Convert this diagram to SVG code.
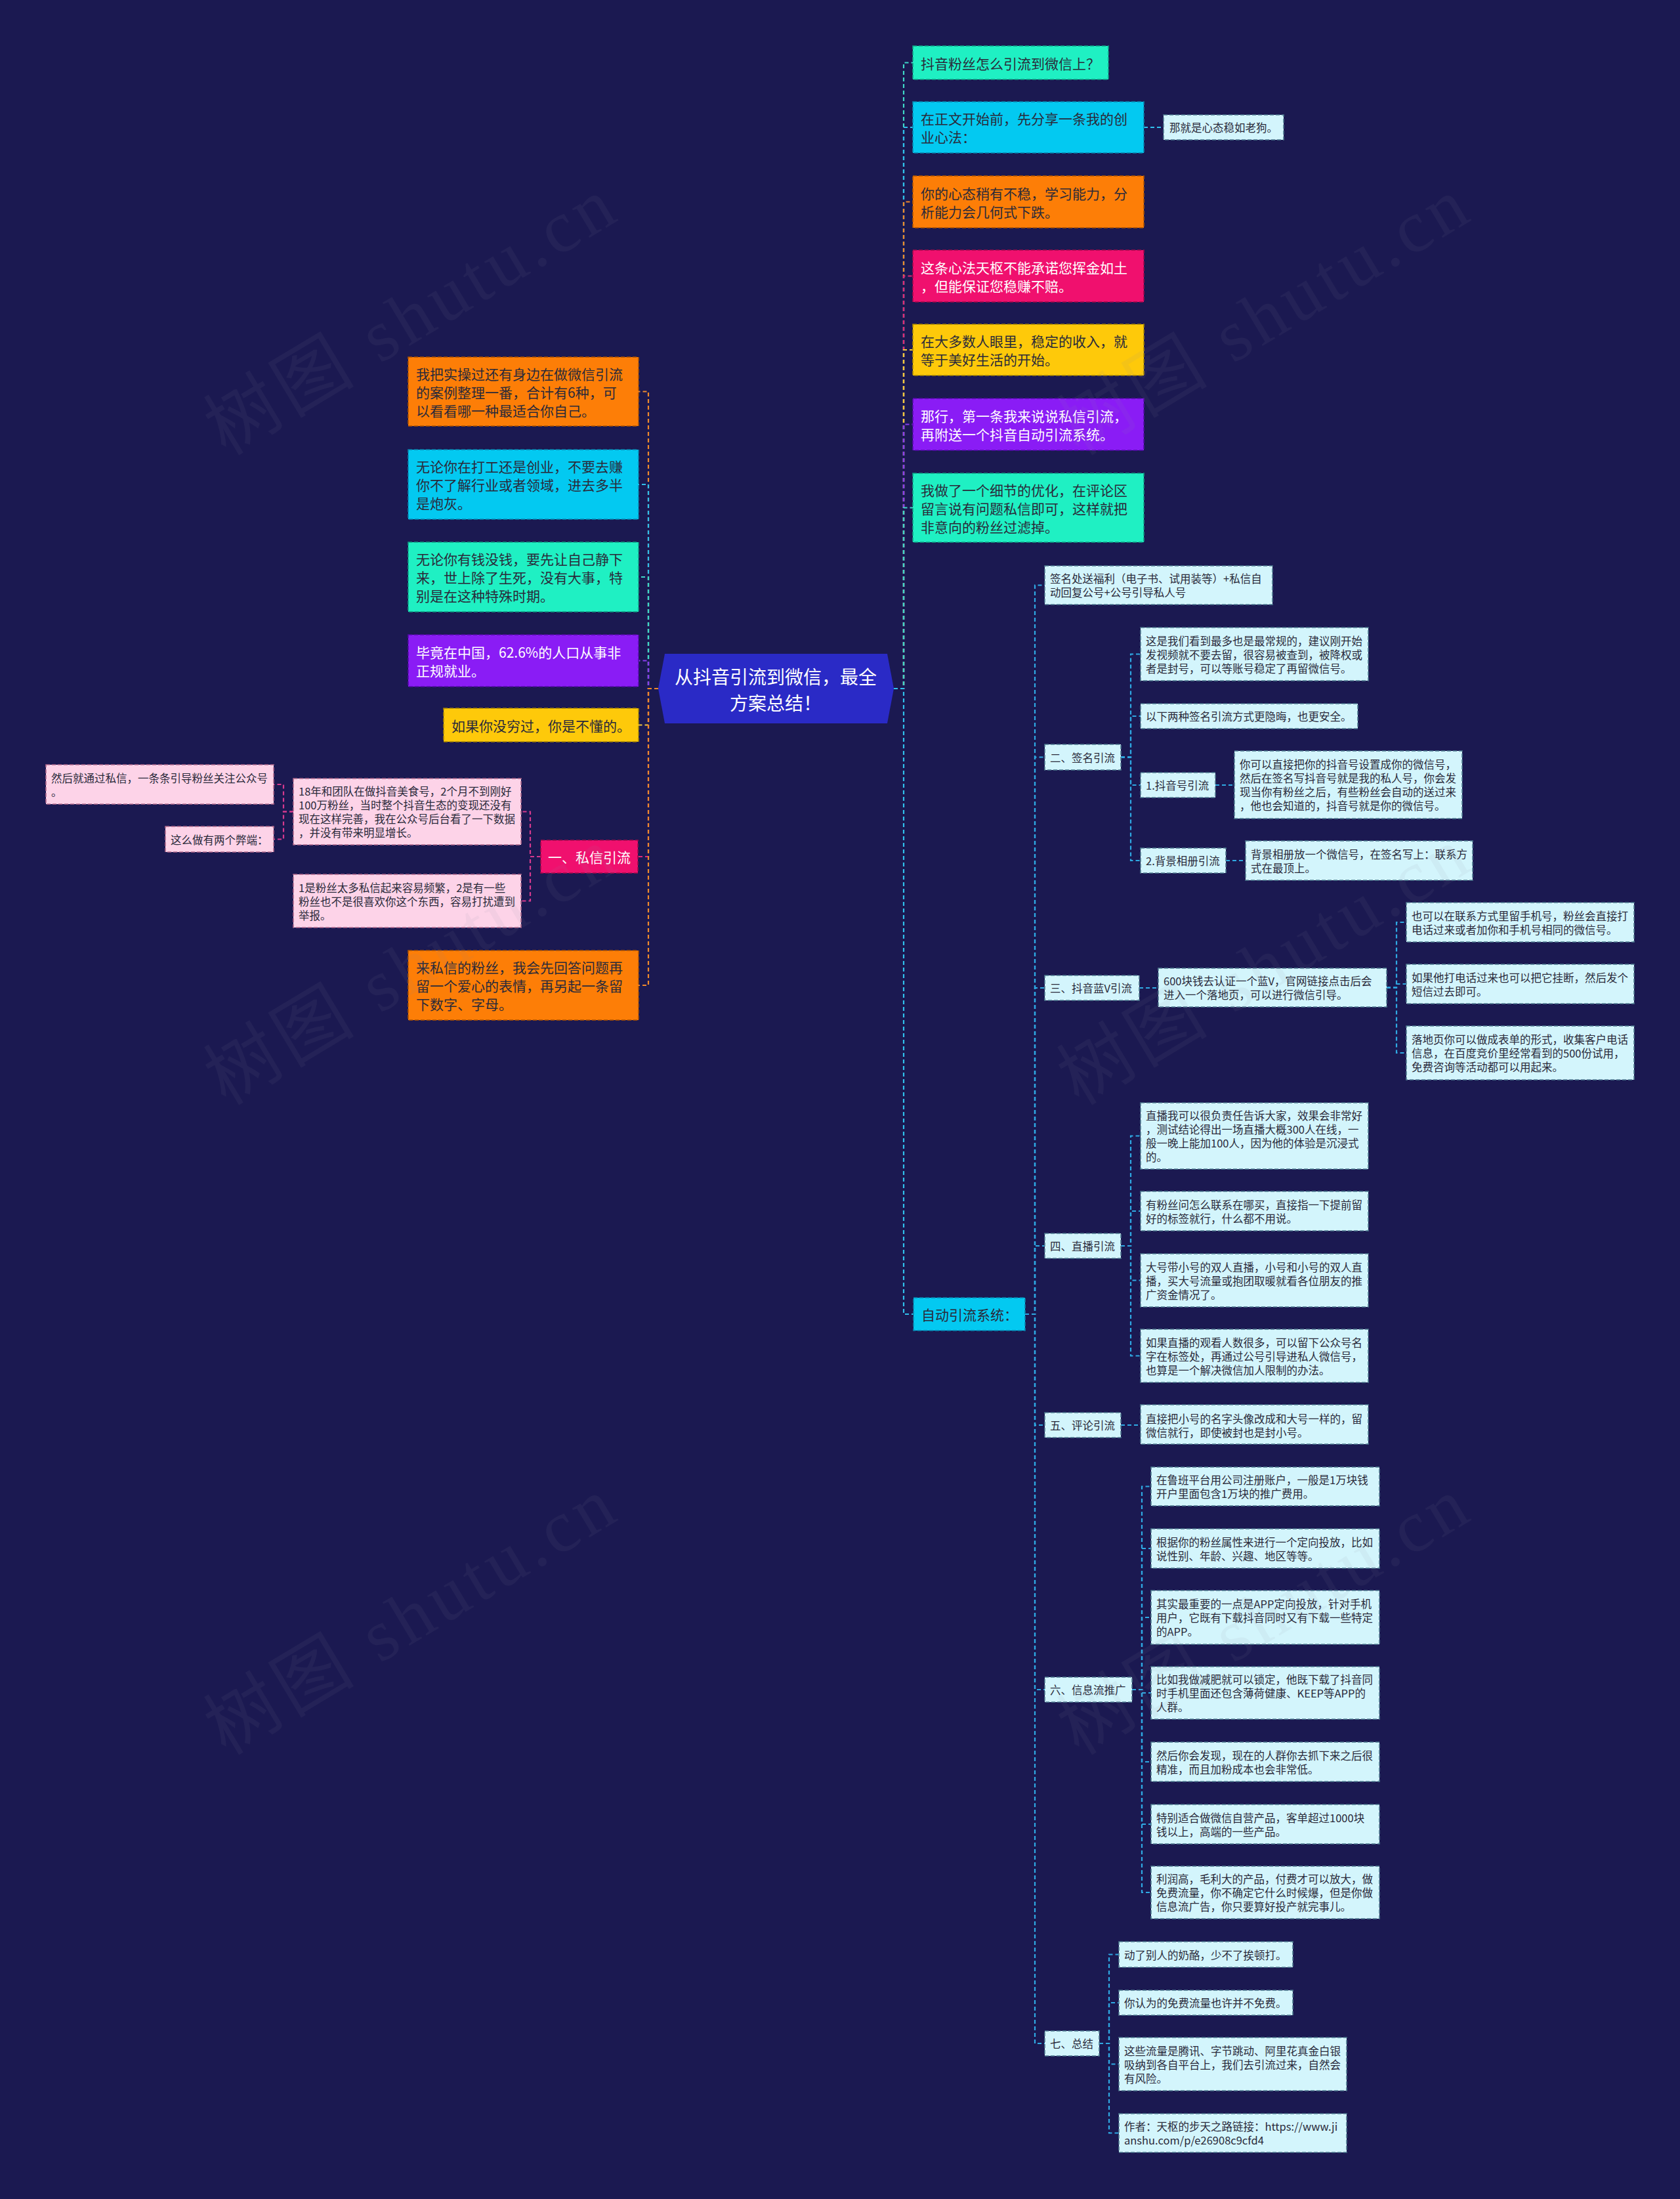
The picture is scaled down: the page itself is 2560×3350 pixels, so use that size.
<svg xmlns="http://www.w3.org/2000/svg" width="2560" height="3350" viewBox="0 0 2560 3350">
<style>
text{font-family:"Noto Sans CJK SC","Noto Sans",sans-serif;dominant-baseline:central}
.t1{font-size:21px}
.t2{font-size:16.5px}
.dk{fill:#2a2a3a}
.wt{fill:#ffffff}
.nb{stroke-width:1.6;stroke-dasharray:6 3}
.teal{fill:#1ff0c3;stroke:#0f9e84}
.cyan{fill:#03c9f1;stroke:#0a84ad}
.orange{fill:#fd7e07;stroke:#ad5300}
.pink{fill:#f0106e;stroke:#a2084a}
.yellow{fill:#fec90a;stroke:#a98600}
.purple{fill:#8a1cf5;stroke:#5609ab}
.lc{fill:#d3f5fc;stroke:#4f7b90}
.lp{fill:#fdd3e8;stroke:#b0688c}
#connectors path{fill:none;stroke-width:2.2;stroke-dasharray:6 4}
.e-teal{stroke:#3fd8c8}
.e-cyan{stroke:#31c0ec}
.e-orange{stroke:#f08a2c}
.e-pink{stroke:#e0287a}
.e-yellow{stroke:#f5c83a}
.e-purple{stroke:#8a3cf0}
.e-blue{stroke:#2fa9e3}
.e-pink2{stroke:#d63a8e}
.wm{font-family:"Liberation Serif","Noto Sans CJK SC",serif;font-size:112px;fill:#8a8aa0;opacity:0.08;dominant-baseline:auto}
</style>
<rect x="0" y="0" width="2560" height="3350" fill="#1b1951"/>

<g id="connectors">
<path class="e-teal" d="M1362 1049H1377V95.5H1391"/>
<path class="e-cyan" d="M1362 1049H1377V194H1391"/>
<path class="e-orange" d="M1362 1049H1377V307.5H1391"/>
<path class="e-pink" d="M1362 1049H1377V420.5H1391"/>
<path class="e-yellow" d="M1362 1049H1377V533H1391"/>
<path class="e-purple" d="M1362 1049H1377V646.5H1391"/>
<path class="e-teal" d="M1362 1049H1377V773.5H1391"/>
<path class="e-cyan" d="M1362 1049H1377V2002H1392"/>
<path class="e-cyan" d="M1743 194H1773"/>

<path class="e-orange" d="M1003 1049H988V596.5H973"/>
<path class="e-cyan" d="M1003 1049H988V738H973"/>
<path class="e-teal" d="M1003 1049H988V879H973"/>
<path class="e-purple" d="M1003 1049H988V1006.5H973"/>
<path class="e-yellow" d="M1003 1049H988V1104.5H973"/>
<path class="e-pink" d="M1003 1049H988V1305H972"/>
<path class="e-orange" d="M1003 1049H988V1501H973"/>

<path class="e-pink2" d="M824 1305H808V1236.5H794"/>
<path class="e-pink2" d="M824 1305H808V1372.5H794"/>
<path class="e-pink2" d="M447 1236.5H432V1195H417"/>
<path class="e-pink2" d="M447 1236.5H432V1278.5H417"/>

<path class="e-blue" d="M1562 2002H1577V891.5H1592"/>
<path class="e-blue" d="M1562 2002H1577V1153.5H1592"/>
<path class="e-blue" d="M1562 2002H1577V1505H1592"/>
<path class="e-blue" d="M1562 2002H1577V1898H1592"/>
<path class="e-blue" d="M1562 2002H1577V2171H1592"/>
<path class="e-blue" d="M1562 2002H1577V2574H1592"/>
<path class="e-blue" d="M1562 2002H1577V3113H1592"/>

<path class="e-blue" d="M1708 1153.5H1723V996.5H1738"/>
<path class="e-blue" d="M1708 1153.5H1723V1091H1738"/>
<path class="e-blue" d="M1708 1153.5H1723V1196H1738"/>
<path class="e-blue" d="M1708 1153.5H1723V1311H1738"/>
<path class="e-blue" d="M1852 1196H1881"/>
<path class="e-blue" d="M1868 1311H1898"/>

<path class="e-blue" d="M1736 1505H1765"/>
<path class="e-blue" d="M2113 1504.5H2128V1405H2143"/>
<path class="e-blue" d="M2113 1504.5H2128V1499H2143"/>
<path class="e-blue" d="M2113 1504.5H2128V1604H2143"/>

<path class="e-blue" d="M1708 1898H1723V1730.5H1738"/>
<path class="e-blue" d="M1708 1898H1723V1845H1738"/>
<path class="e-blue" d="M1708 1898H1723V1950.5H1738"/>
<path class="e-blue" d="M1708 1898H1723V2065.5H1738"/>

<path class="e-blue" d="M1708 2171H1738"/>

<path class="e-blue" d="M1725 2574H1740V2264.5H1754"/>
<path class="e-blue" d="M1725 2574H1740V2359H1754"/>
<path class="e-blue" d="M1725 2574H1740V2464H1754"/>
<path class="e-blue" d="M1725 2574H1740V2579H1754"/>
<path class="e-blue" d="M1725 2574H1740V2684H1754"/>
<path class="e-blue" d="M1725 2574H1740V2779H1754"/>
<path class="e-blue" d="M1725 2574H1740V2883H1754"/>

<path class="e-blue" d="M1675 3113H1690V2977.5H1705"/>
<path class="e-blue" d="M1675 3113H1690V3051H1705"/>
<path class="e-blue" d="M1675 3113H1690V3144.5H1705"/>
<path class="e-blue" d="M1675 3113H1690V3249.5H1705"/>
</g>

<g id="nodes">
<g id="root">
<polygon points="1003,1049 1013,996 1352,996 1362,1049 1352,1102 1013,1102" fill="#2a2ac6"/>
<text x="1182" y="1030" font-size="28" fill="#ffffff" text-anchor="middle">从抖音引流到微信，最全</text>
<text x="1182" y="1070" font-size="28" fill="#ffffff" text-anchor="middle">方案总结！</text>
</g>

<g id="n-a"><rect class="teal nb" x="1391" y="70" width="298" height="51"/>
<text class="t1 dk" x="1403" y="95.5">抖音粉丝怎么引流到微信上？</text></g>
<g id="n-b"><rect class="cyan nb" x="1391" y="155" width="352" height="78"/>
<text class="t1 dk" x="1403" y="180">在正文开始前，先分享一条我的创</text>
<text class="t1 dk" x="1403" y="208">业心法：</text></g>
<g id="n-b1"><rect class="lc nb" x="1773" y="175" width="183" height="38"/>
<text class="t2 dk" x="1782" y="194">那就是心态稳如老狗。</text></g>
<g id="n-c"><rect class="orange nb" x="1391" y="268" width="352" height="79"/>
<text class="t1 dk" x="1403" y="293.5">你的心态稍有不稳，学习能力，分</text>
<text class="t1 dk" x="1403" y="321.5">析能力会几何式下跌。</text></g>
<g id="n-d"><rect class="pink nb" x="1391" y="381" width="352" height="79"/>
<text class="t1 wt" x="1403" y="406.5">这条心法天枢不能承诺您挥金如土</text>
<text class="t1 wt" x="1403" y="434.5">，但能保证您稳赚不赔。</text></g>
<g id="n-e"><rect class="yellow nb" x="1391" y="494" width="352" height="78"/>
<text class="t1 dk" x="1403" y="519">在大多数人眼里，稳定的收入，就</text>
<text class="t1 dk" x="1403" y="547">等于美好生活的开始。</text></g>
<g id="n-f"><rect class="purple nb" x="1391" y="607" width="352" height="79"/>
<text class="t1 wt" x="1403" y="632.5">那行，第一条我来说说私信引流，</text>
<text class="t1 wt" x="1403" y="660.5">再附送一个抖音自动引流系统。</text></g>
<g id="n-g"><rect class="teal nb" x="1391" y="721" width="352" height="105"/>
<text class="t1 dk" x="1403" y="745.5">我做了一个细节的优化，在评论区</text>
<text class="t1 dk" x="1403" y="773.5">留言说有问题私信即可，这样就把</text>
<text class="t1 dk" x="1403" y="801.5">非意向的粉丝过滤掉。</text></g>

<g id="n-l1"><rect class="orange nb" x="622" y="544" width="351" height="105"/>
<text class="t1 dk" x="634" y="568.5">我把实操过还有身边在做微信引流</text>
<text class="t1 dk" x="634" y="596.5">的案例整理一番，合计有6种，可</text>
<text class="t1 dk" x="634" y="624.5">以看看哪一种最适合你自己。</text></g>
<g id="n-l2"><rect class="cyan nb" x="622" y="685" width="351" height="106"/>
<text class="t1 dk" x="634" y="710">无论你在打工还是创业，不要去赚</text>
<text class="t1 dk" x="634" y="738">你不了解行业或者领域，进去多半</text>
<text class="t1 dk" x="634" y="766">是炮灰。</text></g>
<g id="n-l3"><rect class="teal nb" x="622" y="826" width="351" height="106"/>
<text class="t1 dk" x="634" y="851">无论你有钱没钱，要先让自己静下</text>
<text class="t1 dk" x="634" y="879">来，世上除了生死，没有大事，特</text>
<text class="t1 dk" x="634" y="907">别是在这种特殊时期。</text></g>
<g id="n-l4"><rect class="purple nb" x="622" y="967" width="351" height="79"/>
<text class="t1 wt" x="634" y="992.5">毕竟在中国，62.6%的人口从事非</text>
<text class="t1 wt" x="634" y="1020.5">正规就业。</text></g>
<g id="n-l5"><rect class="yellow nb" x="676" y="1079" width="297" height="51"/>
<text class="t1 dk" x="688" y="1104.5">如果你没穷过，你是不懂的。</text></g>
<g id="n-l6"><rect class="pink nb" x="824" y="1280" width="148" height="50"/>
<text class="t1 wt" x="835" y="1305">一、私信引流</text></g>
<g id="n-l6a"><rect class="lp nb" x="447" y="1186" width="347" height="101"/>
<text class="t2 dk" x="455" y="1205">18年和团队在做抖音美食号，2个月不到刚好</text>
<text class="t2 dk" x="455" y="1226">100万粉丝，当时整个抖音生态的变现还没有</text>
<text class="t2 dk" x="455" y="1247">现在这样完善，我在公众号后台看了一下数据</text>
<text class="t2 dk" x="455" y="1268">，并没有带来明显增长。</text></g>
<g id="n-l6a1"><rect class="lp nb" x="70" y="1165" width="347" height="60"/>
<text class="t2 dk" x="78" y="1184.5">然后就通过私信，一条条引导粉丝关注公众号</text>
<text class="t2 dk" x="78" y="1205.5">。</text></g>
<g id="n-l6a2"><rect class="lp nb" x="252" y="1259" width="165" height="39"/>
<text class="t2 dk" x="260" y="1278.5">这么做有两个弊端：</text></g>
<g id="n-l6b"><rect class="lp nb" x="447" y="1332" width="347" height="81"/>
<text class="t2 dk" x="455" y="1351.5">1是粉丝太多私信起来容易频繁，2是有一些</text>
<text class="t2 dk" x="455" y="1372.5">粉丝也不是很喜欢你这个东西，容易打扰遭到</text>
<text class="t2 dk" x="455" y="1393.5">举报。</text></g>
<g id="n-l7"><rect class="orange nb" x="622" y="1448" width="351" height="106"/>
<text class="t1 dk" x="634" y="1473">来私信的粉丝，我会先回答问题再</text>
<text class="t1 dk" x="634" y="1501">留一个爱心的表情，再另起一条留</text>
<text class="t1 dk" x="634" y="1529">下数字、字母。</text></g>

<g id="n-auto"><rect class="cyan nb" x="1392" y="1977" width="170" height="50"/>
<text class="t1 dk" x="1404" y="2002" font-size="20">自动引流系统：</text></g>

<g id="n-s0"><rect class="lc nb" x="1592" y="862" width="347" height="59"/>
<text class="t2 dk" x="1600" y="881">签名处送福利（电子书、试用装等）+私信自</text>
<text class="t2 dk" x="1600" y="902">动回复公号+公号引导私人号</text></g>

<g id="n-s2"><rect class="lc nb" x="1592" y="1134" width="116" height="39"/>
<text class="t2 dk" x="1600" y="1153.5">二、签名引流</text></g>
<g id="n-s2a"><rect class="lc nb" x="1738" y="956" width="347" height="81"/>
<text class="t2 dk" x="1746" y="975.5">这是我们看到最多也是最常规的，建议刚开始</text>
<text class="t2 dk" x="1746" y="996.5">发视频就不要去留，很容易被查到，被降权或</text>
<text class="t2 dk" x="1746" y="1017.5">者是封号，可以等账号稳定了再留微信号。</text></g>
<g id="n-s2b"><rect class="lc nb" x="1738" y="1072" width="331" height="38"/>
<text class="t2 dk" x="1746" y="1091">以下两种签名引流方式更隐晦，也更安全。</text></g>
<g id="n-s2c"><rect class="lc nb" x="1738" y="1177" width="114" height="38"/>
<text class="t2 dk" x="1746" y="1196">1.抖音号引流</text></g>
<g id="n-s2c1"><rect class="lc nb" x="1881" y="1144" width="347" height="103"/>
<text class="t2 dk" x="1889" y="1164">你可以直接把你的抖音号设置成你的微信号，</text>
<text class="t2 dk" x="1889" y="1185">然后在签名写抖音号就是我的私人号，你会发</text>
<text class="t2 dk" x="1889" y="1206">现当你有粉丝之后，有些粉丝会自动的送过来</text>
<text class="t2 dk" x="1889" y="1227">，他也会知道的，抖音号就是你的微信号。</text></g>
<g id="n-s2d"><rect class="lc nb" x="1738" y="1292" width="130" height="38"/>
<text class="t2 dk" x="1746" y="1311">2.背景相册引流</text></g>
<g id="n-s2d1"><rect class="lc nb" x="1898" y="1281" width="346" height="60"/>
<text class="t2 dk" x="1906" y="1300.5">背景相册放一个微信号，在签名写上：联系方</text>
<text class="t2 dk" x="1906" y="1321.5">式在最顶上。</text></g>

<g id="n-s3"><rect class="lc nb" x="1592" y="1486" width="144" height="38"/>
<text class="t2 dk" x="1600" y="1505">三、抖音蓝V引流</text></g>
<g id="n-s3a"><rect class="lc nb" x="1765" y="1475" width="348" height="59"/>
<text class="t2 dk" x="1773" y="1494">600块钱去认证一个蓝V，官网链接点击后会</text>
<text class="t2 dk" x="1773" y="1515">进入一个落地页，可以进行微信引导。</text></g>
<g id="n-s3a1"><rect class="lc nb" x="2143" y="1375" width="347" height="60"/>
<text class="t2 dk" x="2151" y="1394.5">也可以在联系方式里留手机号，粉丝会直接打</text>
<text class="t2 dk" x="2151" y="1415.5">电话过来或者加你和手机号相同的微信号。</text></g>
<g id="n-s3a2"><rect class="lc nb" x="2143" y="1469" width="347" height="60"/>
<text class="t2 dk" x="2151" y="1488.5">如果他打电话过来也可以把它挂断，然后发个</text>
<text class="t2 dk" x="2151" y="1509.5">短信过去即可。</text></g>
<g id="n-s3a3"><rect class="lc nb" x="2143" y="1563" width="347" height="82"/>
<text class="t2 dk" x="2151" y="1583">落地页你可以做成表单的形式，收集客户电话</text>
<text class="t2 dk" x="2151" y="1604">信息，在百度竞价里经常看到的500份试用，</text>
<text class="t2 dk" x="2151" y="1625">免费咨询等活动都可以用起来。</text></g>

<g id="n-s4"><rect class="lc nb" x="1592" y="1879" width="116" height="38"/>
<text class="t2 dk" x="1600" y="1898">四、直播引流</text></g>
<g id="n-s4a"><rect class="lc nb" x="1738" y="1680" width="347" height="101"/>
<text class="t2 dk" x="1746" y="1699">直播我可以很负责任告诉大家，效果会非常好</text>
<text class="t2 dk" x="1746" y="1720">，测试结论得出一场直播大概300人在线，一</text>
<text class="t2 dk" x="1746" y="1741">般一晚上能加100人，因为他的体验是沉浸式</text>
<text class="t2 dk" x="1746" y="1762">的。</text></g>
<g id="n-s4b"><rect class="lc nb" x="1738" y="1815" width="347" height="60"/>
<text class="t2 dk" x="1746" y="1834.5">有粉丝问怎么联系在哪买，直接指一下提前留</text>
<text class="t2 dk" x="1746" y="1855.5">好的标签就行，什么都不用说。</text></g>
<g id="n-s4c"><rect class="lc nb" x="1738" y="1910" width="347" height="81"/>
<text class="t2 dk" x="1746" y="1929.5">大号带小号的双人直播，小号和小号的双人直</text>
<text class="t2 dk" x="1746" y="1950.5">播，买大号流量或抱团取暖就看各位朋友的推</text>
<text class="t2 dk" x="1746" y="1971.5">广资金情况了。</text></g>
<g id="n-s4d"><rect class="lc nb" x="1738" y="2025" width="347" height="81"/>
<text class="t2 dk" x="1746" y="2044.5">如果直播的观看人数很多，可以留下公众号名</text>
<text class="t2 dk" x="1746" y="2065.5">字在标签处，再通过公号引导进私人微信号，</text>
<text class="t2 dk" x="1746" y="2086.5">也算是一个解决微信加人限制的办法。</text></g>

<g id="n-s5"><rect class="lc nb" x="1592" y="2152" width="116" height="38"/>
<text class="t2 dk" x="1600" y="2171">五、评论引流</text></g>
<g id="n-s5a"><rect class="lc nb" x="1738" y="2140" width="347" height="60"/>
<text class="t2 dk" x="1746" y="2160.5">直接把小号的名字头像改成和大号一样的，留</text>
<text class="t2 dk" x="1746" y="2181.5">微信就行，即使被封也是封小号。</text></g>

<g id="n-s6"><rect class="lc nb" x="1592" y="2555" width="133" height="38"/>
<text class="t2 dk" x="1600" y="2574">六、信息流推广</text></g>
<g id="n-s6a"><rect class="lc nb" x="1754" y="2235" width="348" height="59"/>
<text class="t2 dk" x="1762" y="2254">在鲁班平台用公司注册账户，一般是1万块钱</text>
<text class="t2 dk" x="1762" y="2275">开户里面包含1万块的推广费用。</text></g>
<g id="n-s6b"><rect class="lc nb" x="1754" y="2329" width="348" height="60"/>
<text class="t2 dk" x="1762" y="2348.5">根据你的粉丝属性来进行一个定向投放，比如</text>
<text class="t2 dk" x="1762" y="2369.5">说性别、年龄、兴趣、地区等等。</text></g>
<g id="n-s6c"><rect class="lc nb" x="1754" y="2423" width="348" height="82"/>
<text class="t2 dk" x="1762" y="2443">其实最重要的一点是APP定向投放，针对手机</text>
<text class="t2 dk" x="1762" y="2464">用户，它既有下载抖音同时又有下载一些特定</text>
<text class="t2 dk" x="1762" y="2485">的APP。</text></g>
<g id="n-s6d"><rect class="lc nb" x="1754" y="2539" width="348" height="80"/>
<text class="t2 dk" x="1762" y="2558">比如我做减肥就可以锁定，他既下载了抖音同</text>
<text class="t2 dk" x="1762" y="2579">时手机里面还包含薄荷健康、KEEP等APP的</text>
<text class="t2 dk" x="1762" y="2600">人群。</text></g>
<g id="n-s6e"><rect class="lc nb" x="1754" y="2654" width="348" height="60"/>
<text class="t2 dk" x="1762" y="2673.5">然后你会发现，现在的人群你去抓下来之后很</text>
<text class="t2 dk" x="1762" y="2694.5">精准，而且加粉成本也会非常低。</text></g>
<g id="n-s6f"><rect class="lc nb" x="1754" y="2749" width="348" height="60"/>
<text class="t2 dk" x="1762" y="2768.5">特别适合做微信自营产品，客单超过1000块</text>
<text class="t2 dk" x="1762" y="2789.5">钱以上，高端的一些产品。</text></g>
<g id="n-s6g"><rect class="lc nb" x="1754" y="2843" width="348" height="80"/>
<text class="t2 dk" x="1762" y="2862">利润高，毛利大的产品，付费才可以放大，做</text>
<text class="t2 dk" x="1762" y="2883">免费流量，你不确定它什么时候爆，但是你做</text>
<text class="t2 dk" x="1762" y="2904">信息流广告，你只要算好投产就完事儿。</text></g>

<g id="n-s7"><rect class="lc nb" x="1592" y="3094" width="83" height="38"/>
<text class="t2 dk" x="1600" y="3113">七、总结</text></g>
<g id="n-s7a"><rect class="lc nb" x="1705" y="2958" width="265" height="39"/>
<text class="t2 dk" x="1713" y="2977.5">动了别人的奶酪，少不了挨顿打。</text></g>
<g id="n-s7b"><rect class="lc nb" x="1705" y="3032" width="265" height="38"/>
<text class="t2 dk" x="1713" y="3051">你认为的免费流量也许并不免费。</text></g>
<g id="n-s7c"><rect class="lc nb" x="1705" y="3104" width="347" height="81"/>
<text class="t2 dk" x="1713" y="3123.5">这些流量是腾讯、字节跳动、阿里花真金白银</text>
<text class="t2 dk" x="1713" y="3144.5">吸纳到各自平台上，我们去引流过来，自然会</text>
<text class="t2 dk" x="1713" y="3165.5">有风险。</text></g>
<g id="n-s7d"><rect class="lc nb" x="1705" y="3220" width="347" height="59"/>
<text class="t2 dk" x="1713" y="3239">作者：天枢的步天之路链接：https://www.ji</text>
<text class="t2 dk" x="1713" y="3260">anshu.com/p/e26908c9cfd4</text></g>
</g>

<g id="watermark">
<text class="wm" x="644" y="515" text-anchor="middle" transform="rotate(-31 644 515)" textLength="700" lengthAdjust="spacing">树图 shutu.cn</text>
<text class="wm" x="1944" y="515" text-anchor="middle" transform="rotate(-31 1944 515)" textLength="700" lengthAdjust="spacing">树图 shutu.cn</text>
<text class="wm" x="644" y="1505" text-anchor="middle" transform="rotate(-31 644 1505)" textLength="700" lengthAdjust="spacing">树图 shutu.cn</text>
<text class="wm" x="1944" y="1505" text-anchor="middle" transform="rotate(-31 1944 1505)" textLength="700" lengthAdjust="spacing">树图 shutu.cn</text>
<text class="wm" x="644" y="2495" text-anchor="middle" transform="rotate(-31 644 2495)" textLength="700" lengthAdjust="spacing">树图 shutu.cn</text>
<text class="wm" x="1944" y="2495" text-anchor="middle" transform="rotate(-31 1944 2495)" textLength="700" lengthAdjust="spacing">树图 shutu.cn</text>
</g>
</svg>
